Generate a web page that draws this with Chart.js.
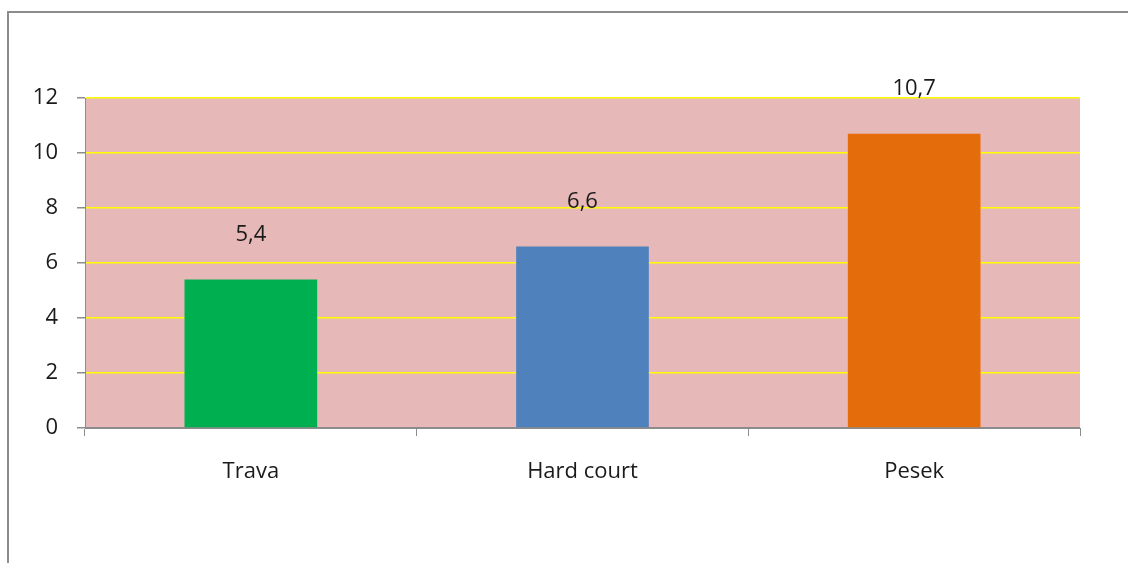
<!DOCTYPE html>
<html>
<head>
<meta charset="utf-8">
<script src="https://cdn.jsdelivr.net/npm/chart.js@4/dist/chart.umd.min.js"></script>
<style>
    html, body { margin: 0; padding: 0; background: #ffffff; overflow: hidden; }
    #wrap { width: 1128px; height: 563px; }
</style>
</head>
<body>
<div id="wrap"><canvas id="chart" width="1128" height="563"></canvas></div>
<script>
"use strict";

var categories = ["Trava", "Hard court", "Pesek"];
var values = [5.4, 6.6, 10.7];
var valueLabels = ["5,4", "6,6", "10,7"];
var barColors = ["#00B050", "#4F81BD", "#E46C0A"];
var yTicks = [0, 2, 4, 6, 8, 10, 12];

var fontFamily = "'Open Sans', 'Noto Sans', sans-serif";

// frame + plot background
var backgroundPlugin = {
    id: "background",
    beforeDraw: function(chart) {
        var ctx = chart.ctx;
        var area = chart.chartArea;
        ctx.save();
        ctx.strokeStyle = "#8c8c8c";
        ctx.lineWidth = 2;
        ctx.strokeRect(8, 12, 1300, 700);
        ctx.fillStyle = "#E6B8B7";
        ctx.fillRect(area.left, area.top, area.right - area.left, area.bottom - area.top);
        ctx.restore();
    }
};

// value labels above each bar
var labelPlugin = {
    id: "valueLabels",
    afterDatasetsDraw: function(chart) {
        var ctx = chart.ctx;
        var meta = chart.getDatasetMeta(0);
        ctx.save();
        ctx.font = "22px " + fontFamily;
        ctx.fillStyle = "#1a1a1a";
        ctx.textAlign = "center";
        ctx.textBaseline = "middle";
        meta.data.forEach(function(bar, i) {
            ctx.fillText(valueLabels[i], bar.x, bar.y - 45);
        });
        ctx.restore();
    }
};

var ctx = document.getElementById("chart").getContext("2d");
var chart = new Chart(ctx, {
    type: "bar",
    data: {
        labels: categories,
        datasets: [{
            data: values,
            backgroundColor: barColors,
            borderWidth: 0,
            barPercentage: 0.4,
            categoryPercentage: 1
        }]
    },
    options: {
        responsive: false,
        animation: false,
        layout: { padding: { top: 98, right: 48, left: 0, bottom: 0 } },
        plugins: {
            legend: { display: false },
            tooltip: { enabled: false }
        },
        scales: {
            x: {
                grid: {
                    offset: true,
                    drawOnChartArea: false,
                    tickLength: 8,
                    tickColor: "#8c8c8c"
                },
                border: { color: "#8c8c8c", width: 1 },
                ticks: {
                    padding: 23,
                    color: "#1a1a1a",
                    font: { family: fontFamily, size: 22 }
                },
                afterFit: function(scale) { scale.height = 135; }
            },
            y: {
                min: 0,
                max: 12,
                afterBuildTicks: function(scale) {
                    scale.ticks = yTicks.map(function(v) { return { value: v }; });
                },
                grid: {
                    color: function(c) { return c.tick && c.tick.value === 0 ? "#8c8c8c" : "#FFFF00"; },
                    tickColor: "#8c8c8c",
                    tickLength: 8,
                    lineWidth: 1.5
                },
                border: { color: "#8c8c8c", width: 1 },
                ticks: {
                    padding: 19,
                    color: "#1a1a1a",
                    font: { family: fontFamily, size: 22 }
                },
                afterFit: function(scale) { scale.width = 85; }
            }
        }
    },
    plugins: [backgroundPlugin, labelPlugin]
});
console.log(chart);
</script>
</body>
</html>
